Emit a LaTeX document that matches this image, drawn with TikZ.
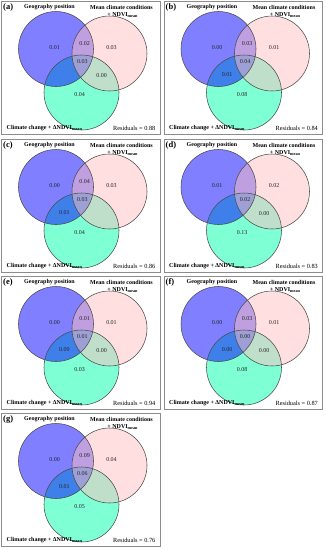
\documentclass[tikz,border=0pt]{standalone}
\usepackage{fontspec}
\setmainfont{Liberation Serif}
\newcommand\subm{\raisebox{-0.9pt}{\fontsize{4.2}{5}\selectfont mean}}
\begin{document}
\begin{tikzpicture}[x=1pt,y=-1pt,
  frame/.style={draw=black!45,line width=0.8pt},
  ring/.style={circle,draw=black!70,line width=0.55pt,minimum size=75pt,inner sep=0pt},
  ttl/.style={font=\fontsize{6}{7}\selectfont\bfseries,inner sep=0pt},
  lab/.style={font=\fontsize{8.5}{9}\selectfont\bfseries,inner sep=0pt,anchor=west},
  num/.style={font=\fontsize{6}{7}\selectfont,text=black!85,inner sep=0pt},
  res/.style={font=\fontsize{6.3}{7}\selectfont,inner sep=0pt,anchor=east},
  gfill/.style={fill={rgb,255:red,0;green,255;blue,170},fill opacity=0.5},
  bfill/.style={fill={rgb,255:red,0;green,0;blue,255},fill opacity=0.5},
  pfill/.style={fill={rgb,255:red,255;green,192;blue,192},fill opacity=0.5}]
\useasboundingbox (0,0) rectangle (325,550);
\newcommand\vbase[3]{%
  \node[frame,minimum width=158pt,minimum height=133pt,inner sep=0pt,anchor=north west] (#1-frame) at (0,0) {};
  \path[gfill] (80,91.5) circle[radius=37.5pt];
  \path[bfill] (54.5,48) circle[radius=37.5pt];
  \path[pfill] (108,52.5) circle[radius=37.5pt];
  \node[ring] (#1-geo) at (54.5,48) {};
  \node[ring] (#1-mcc) at (108,52.5) {};
  \node[ring] (#1-cc) at (80,91.5) {};
  \node[lab] (#1-lab) at (1.5,6.5) {(#2)};
  \node[ttl] (#1-geot) at (48,6) {Geography position};
  \node[ttl] (#1-mcct) at (120,6) {Mean climate conditions};
  \node[ttl] (#1-mcct2) at (121,14) {+ NDVI\subm};
  \node[ttl,anchor=west] (#1-cct) at (5,127) {Climate change + ΔNDVI\subm};
  \node[res] (#1-res) at (154,127) {Residuals = #3};
}
\def\pB{(53,47)}\def\pBP{(83,43)}\def\pP{(110,47)}\def\pC{(81,61)}
\def\pBG{(63,74)}\def\pPG{(100,75)}\def\pG{(78,94)}
% (a)
\begin{scope}[shift={(1.5,1)}]
  \vbase{a}{a}{0.88}
  \node[num] (a-n1) at \pB {0.01};
  \node[num] (a-n2) at \pBP {0.02};
  \node[num] (a-n3) at \pP {0.03};
  \node[num] (a-n4) at \pC {0.03};
  \node[num] (a-n6) at \pPG {0.00};
  \node[num] (a-n7) at \pG {0.04};
\end{scope}
% (b)
\begin{scope}[shift={(164,1)}]
  \vbase{b}{b}{0.84}
  \node[num] (b-n1) at \pB {0.00};
  \node[num] (b-n2) at \pBP {0.03};
  \node[num] (b-n3) at \pP {0.01};
  \node[num] (b-n4) at \pC {0.04};
  \node[num] (b-n5) at \pBG {0.01};
  \node[num] (b-n7) at \pG {0.08};
\end{scope}
% (c)
\begin{scope}[shift={(1.5,139)}]
  \vbase{c}{c}{0.86}
  \node[num] (c-n1) at \pB {0.00};
  \node[num] (c-n2) at \pBP {0.04};
  \node[num] (c-n3) at \pP {0.03};
  \node[num] (c-n4) at \pC {0.03};
  \node[num] (c-n5) at \pBG {0.01};
  \node[num] (c-n7) at \pG {0.04};
\end{scope}
% (d)
\begin{scope}[shift={(164,139)}]
  \vbase{d}{d}{0.83}
  \node[num] (d-n1) at \pB {0.01};
  \node[num] (d-n3) at \pP {0.02};
  \node[num] (d-n4) at \pC {0.02};
  \node[num] (d-n6) at \pPG {0.00};
  \node[num] (d-n7) at \pG {0.13};
\end{scope}
% (e)
\begin{scope}[shift={(1.5,276)}]
  \vbase{e}{e}{0.94}
  \node[num] (e-n1) at \pB {0.00};
  \node[num] (e-n2) at \pBP {0.01};
  \node[num] (e-n3) at \pP {0.01};
  \node[num] (e-n4) at \pC {0.01};
  \node[num] (e-n5) at \pBG {0.00};
  \node[num] (e-n6) at \pPG {0.00};
  \node[num] (e-n7) at \pG {0.03};
\end{scope}
% (f)
\begin{scope}[shift={(164,276)}]
  \vbase{f}{f}{0.87}
  \node[num] (f-n1) at \pB {0.00};
  \node[num] (f-n2) at \pBP {0.03};
  \node[num] (f-n3) at \pP {0.01};
  \node[num] (f-n4) at \pC {0.00};
  \node[num] (f-n5) at \pBG {0.00};
  \node[num] (f-n6) at \pPG {0.00};
  \node[num] (f-n7) at \pG {0.08};
\end{scope}
% (g)
\begin{scope}[shift={(1.5,413)}]
  \vbase{g}{g}{0.76}
  \node[num] (g-n1) at \pB {0.00};
  \node[num] (g-n2) at \pBP {0.09};
  \node[num] (g-n3) at \pP {0.04};
  \node[num] (g-n4) at \pC {0.06};
  \node[num] (g-n5) at \pBG {0.01};
  \node[num] (g-n7) at \pG {0.05};
\end{scope}
\end{tikzpicture}
\end{document}
